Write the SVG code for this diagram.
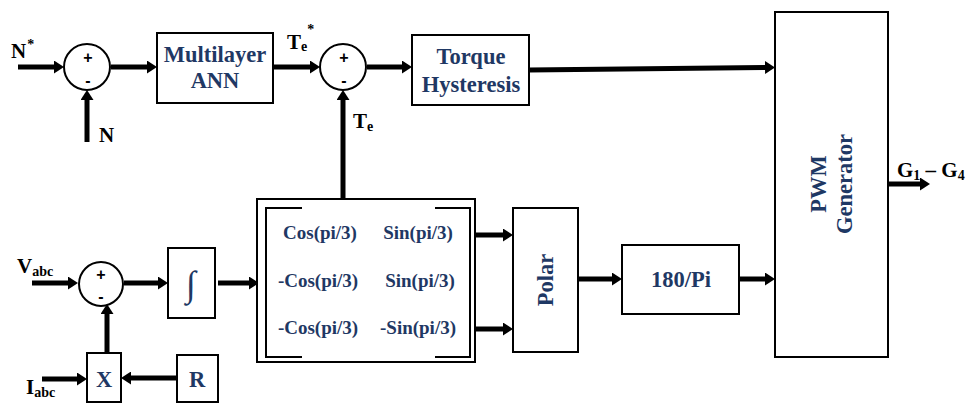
<svg xmlns="http://www.w3.org/2000/svg" width="975" height="405" viewBox="0 0 975 405">
<defs>
<style>
.box{fill:#fff;stroke:#000;stroke-width:2}
.sum{fill:#fff;stroke:#000;stroke-width:2}
.lbl{font-family:"Liberation Serif","Times New Roman",serif;font-weight:bold;font-size:22.5px;fill:#1f3864;text-anchor:middle}
.mat{font-family:"Liberation Serif","Times New Roman",serif;font-weight:bold;font-size:19px;fill:#1f3864;text-anchor:middle}
.sig{font-family:"Liberation Serif","Times New Roman",serif;font-weight:bold;font-size:21px;fill:#000}
.sub{font-size:14px}
.pm{font-family:"Liberation Sans",Arial,sans-serif;font-weight:bold;font-size:16px;fill:#000;text-anchor:middle}
.wire{fill:none;stroke:#000;stroke-width:5;marker-end:url(#ah)}
.brk{fill:none;stroke:#000;stroke-width:2}
</style>
<marker id="ah" markerUnits="userSpaceOnUse" markerWidth="10" markerHeight="13" refX="1" refY="6.5" orient="auto">
<path d="M0,0 L10,6.5 L0,13 z" fill="#000"/>
</marker>
</defs>
<rect width="975" height="405" fill="#fff"/>

<g id="connectors">
<line class="wire" x1="18" y1="67" x2="55" y2="67"/>
<line class="wire" x1="87" y1="142" x2="87" y2="99"/>
<line class="wire" x1="111" y1="67" x2="148" y2="67"/>
<line class="wire" x1="273" y1="67" x2="311" y2="67"/>
<line class="wire" x1="343" y1="198" x2="343" y2="99"/>
<line class="wire" x1="367" y1="67" x2="403" y2="67"/>
<line class="wire" x1="529" y1="70" x2="766" y2="67.5"/>
<line class="wire" x1="888" y1="184" x2="921" y2="184"/>
<line class="wire" x1="32" y1="283" x2="69" y2="283"/>
<line class="wire" x1="124" y1="283" x2="159" y2="283"/>
<line class="wire" x1="218" y1="283" x2="250" y2="283"/>
<line class="wire" x1="107" y1="353" x2="107" y2="313"/>
<line class="wire" x1="42" y1="379" x2="78" y2="379"/>
<line class="wire" x1="177" y1="378" x2="130" y2="378"/>
<line class="wire" x1="470" y1="235" x2="504" y2="235"/>
<line class="wire" x1="470" y1="329" x2="504" y2="329"/>
<line class="wire" x1="578" y1="279" x2="613" y2="279"/>
<line class="wire" x1="739" y1="279" x2="766" y2="279"/>
</g>

<g id="labels">
<text class="sig" x="11" y="58">N<tspan class="sub" dx="1" dy="-9">*</tspan></text>
<text class="sig" x="99" y="142">N</text>
<text class="sig" x="287" y="49">T<tspan class="sub" dy="2">e</tspan><tspan class="sub" dx="0" dy="-17">*</tspan></text>
<text class="sig" x="353" y="128">T<tspan class="sub" dy="3">e</tspan></text>
<text class="sig" x="17" y="273">V<tspan class="sub" dy="3">abc</tspan></text>
<text class="sig" x="26" y="394">I<tspan class="sub" dy="3">abc</tspan></text>
<text class="sig" x="897" y="177">G<tspan class="sub" dy="3">1</tspan><tspan dy="-3"> – G</tspan><tspan class="sub" dy="3">4</tspan></text>
</g>

<g id="sum1">
<circle class="sum" cx="87" cy="67" r="23"/>
<text class="pm" x="88" y="63">+</text>
<text class="pm" x="88" y="86">-</text>
</g>

<g id="ann">
<rect class="box" x="157" y="33" width="116" height="70"/>
<text class="lbl" x="215" y="62">Multilayer</text>
<text class="lbl" x="215" y="88">ANN</text>
</g>

<g id="sum2">
<circle class="sum" cx="343" cy="67" r="23"/>
<text class="pm" x="344" y="63">+</text>
<text class="pm" x="344" y="86">-</text>
</g>

<g id="torque">
<rect class="box" x="412" y="35" width="117" height="70"/>
<text class="lbl" x="471" y="64">Torque</text>
<text class="lbl" x="471" y="92">Hysteresis</text>
</g>

<g id="pwm">
<rect class="box" x="775" y="12" width="113" height="345"/>
<text class="lbl" transform="translate(826,184) rotate(-90)" x="0" y="0">PWM</text>
<text class="lbl" transform="translate(852,184) rotate(-90)" x="0" y="0">Generator</text>
</g>

<g id="sum3">
<circle class="sum" cx="101" cy="284" r="22"/>
<text class="pm" x="101" y="280">+</text>
<text class="pm" x="101" y="302">-</text>
</g>

<g id="integrator">
<rect class="box" x="168" y="248" width="47" height="70"/>
<text x="191" y="296" font-family="'Liberation Serif','Times New Roman',serif" font-size="36" fill="#1f3864" text-anchor="middle">∫</text>
</g>

<g id="mult">
<rect class="box" x="87" y="353" width="34" height="49"/>
<text class="lbl" x="104" y="387">X</text>
</g>

<g id="r">
<rect class="box" x="177" y="355" width="41" height="47"/>
<text class="lbl" x="197" y="387">R</text>
</g>

<g id="matrix">
<rect class="box" x="257" y="199" width="218" height="163"/>
<path class="brk" d="M302,208 H266 V357 H302"/>
<path class="brk" d="M435,208 H470 V357 H435"/>
<text class="mat" x="320" y="239">Cos(pi/3)</text>
<text class="mat" x="418" y="239">Sin(pi/3)</text>
<text class="mat" x="318" y="287">-Cos(pi/3)</text>
<text class="mat" x="420" y="287">Sin(pi/3)</text>
<text class="mat" x="318" y="334">-Cos(pi/3)</text>
<text class="mat" x="418" y="334">-Sin(pi/3)</text>
</g>

<g id="polar">
<rect class="box" x="513" y="208" width="65" height="144"/>
<text class="lbl" transform="translate(553,280) rotate(-90)" x="0" y="0">Polar</text>
</g>

<g id="rad2deg">
<rect class="box" x="622" y="245" width="117" height="69"/>
<text class="lbl" x="681" y="287">180/Pi</text>
</g>
</svg>
